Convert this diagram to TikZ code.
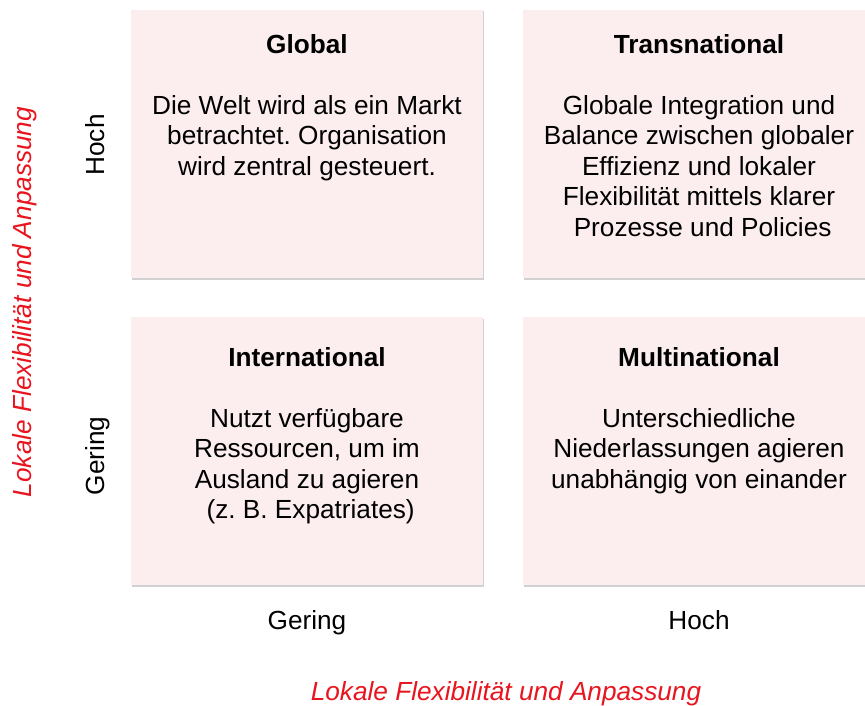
\documentclass[tikz,border=0pt]{standalone}
\usepackage{fontspec}
\setmainfont{Liberation Sans}
\usetikzlibrary{shadows}
\definecolor{boxfill}{RGB}{252,238,239}
\definecolor{axisred}{RGB}{232,20,30}
\frenchspacing
\begin{document}
\begin{tikzpicture}[x=1pt,y=-1pt,
  quad/.style={fill=boxfill, draw=none, inner sep=0pt, minimum width=352pt, minimum height=268pt,
    drop shadow={shadow xshift=1pt, shadow yshift=-1.5pt, fill=black, opacity=0.18}},
  txt/.style={font=\fontsize{26.2}{30.5}\selectfont, inner sep=0pt, text=black},
  ttl/.style={txt, font=\fontsize{26.2}{30.5}\selectfont\bfseries, anchor=base},
  body/.style={txt, align=center, anchor=north},
  axl/.style={txt, anchor=base},
  redl/.style={txt, font=\fontsize{26.2}{30.5}\selectfont\itshape, text=axisred, anchor=base}]
\useasboundingbox (0,0) rectangle (865,706);
\begin{scope}
\clip (0,0) rectangle (865,706);
\node[quad] (qg) at (307,144) {};
\node[quad] (qt) at (699,144) {};
\node[quad] (qi) at (307,451) {};
\node[quad] (qm) at (699,451) {};
\end{scope}

\node[ttl] (tg) at (307,54) {Global};
\node[ttl] (tt) at (699,54) {Transnational};
\node[ttl] (ti) at (307,366) {International};
\node[ttl] (tm) at (699,366) {Multinational};

\node[body] (bg) at (307,95) {Die Welt wird als ein Markt\\betrachtet. Organisation\\wird zentral gesteuert.};
\node[body] (bt) at (699,95) {Globale Integration und\\Balance zwischen globaler\\Effizienz und lokaler\\Flexibilität mittels klarer\\\ Prozesse und Policies};
\node[body] (bi) at (307,408) {Nutzt verfügbare\\Ressourcen, um im\\Ausland zu agieren\\\ (z. B. Expatriates)};
\node[body] (bm) at (699,408) {Unterschiedliche\\Niederlassungen agieren\\unabhängig von einander};

\node[axl, rotate=90] (yh) at (104,145) {Hoch};
\node[axl, rotate=90] (yg) at (104,456) {Gering};
\node[redl, rotate=90] (ya) at (31,302) {Lokale Flexibilität und Anpassung};

\node[axl] (xg) at (307,629) {Gering};
\node[axl] (xh) at (699,629) {Hoch};
\node[redl] (xa) at (506,700) {Lokale Flexibilität und Anpassung};
\end{tikzpicture}
\end{document}
